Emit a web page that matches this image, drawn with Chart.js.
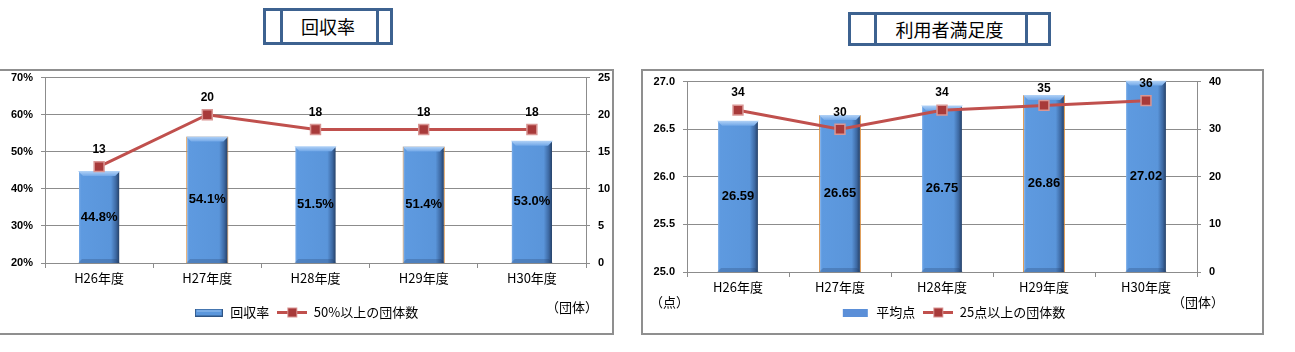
<!DOCTYPE html>
<html>
<head>
<meta charset="utf-8">
<script src="https://cdn.jsdelivr.net/npm/chart.js@4.4.1/dist/chart.umd.min.js"></script>
<style>
  body { margin: 0; background: #fff; width: 1295px; height: 352px; position: relative; overflow: hidden;
         font-family: "Noto Sans CJK JP", sans-serif; }
  .frame { position: absolute; box-sizing: border-box; border: 2px solid #8f8f8f; }
  .ttl { position: absolute; box-sizing: border-box; border: 3px solid #3d6290; text-align: center;
         font-size: 18px; color: #000; }
  .ttl .bar { position: absolute; top: 0; bottom: 0; width: 3px; background: #3d6290; }
  .note { position: absolute; font-size: 13px; line-height: 19px; color: #000; white-space: nowrap; }
  canvas { position: absolute; }
</style>
</head>
<body>

<div class="ttl" style="left:263px;top:8px;width:130px;height:37px;line-height:31px;">
  <div class="bar" style="left:14px"></div>回収率<div class="bar" style="left:110px"></div>
</div>
<div class="ttl" style="left:848px;top:12px;width:203px;height:34px;line-height:28px;">
  <div class="bar" style="left:23px"></div>利用者満足度<div class="bar" style="left:174px"></div>
</div>

<div class="frame" style="left:-2px;top:69px;width:616px;height:266px;"></div>
<div class="frame" style="left:641px;top:69px;width:623px;height:266px;"></div>

<canvas id="rate" width="612" height="271" style="left:0;top:63px"></canvas>
<canvas id="score" width="619" height="267" style="left:643px;top:67px"></canvas>

<div class="note" style="left:546px;top:297px;">（団体）</div>
<div class="note" style="left:650px;top:292px;">（点）</div>
<div class="note" style="left:1172px;top:292px;">（団体）</div>

<script>
// data
const years = ['H26年度', 'H27年度', 'H28年度', 'H29年度', 'H30年度'];
const recoveryRate = [44.8, 54.1, 51.5, 51.4, 53.0];   // 回収率 (%)
const groupsOver50 = [13, 20, 18, 18, 18];              // 50%以上の団体数
const avgScore = [26.59, 26.65, 26.75, 26.86, 27.02];  // 平均点
const groupsOver25 = [34, 30, 34, 35, 36];              // 25点以上の団体数

const GRID = '#8c8c8c';
const EDGE = ['rgba(0,0,0,0)', '#d98b3a', 'rgba(0,0,0,0)', '#d98b3a', 'rgba(0,0,0,0)'];

Chart.defaults.font.family = '"Noto Sans CJK JP", sans-serif';
Chart.defaults.color = '#000';

function barFill(pct) {
  return function (c) {
    const ch = c.chart, xs = ch.scales.x;
    if (c.type !== 'data' || !xs || !ch.chartArea) return '#5b97dc';
    const cx = xs.getPixelForValue(c.dataIndex);
    const half = xs.width / ch.data.labels.length * pct / 2;
    const g = ch.ctx.createLinearGradient(cx - half, 0, cx + half, 0);
    g.addColorStop(0, '#8ab6ec');
    g.addColorStop(0.07, '#5e9ae0');
    g.addColorStop(0.78, '#5a95da');
    g.addColorStop(0.9, '#3d69a3');
    g.addColorStop(1, '#1f3556');
    return g;
  };
}

// top / bottom bevel on the bars
const bevel = {
  id: 'bevel',
  afterDatasetDraw(chart, args) {
    if (args.meta.type !== 'bar') return;
    const ctx = chart.ctx, a = chart.chartArea;
    ctx.save();
    ctx.beginPath(); ctx.rect(a.left, a.top - 1, a.width, a.height + 1); ctx.clip();
    args.meta.data.forEach(el => {
      const l = el.x - el.width / 2, r = el.x + el.width / 2;
      const t = Math.max(el.y, a.top - 1), b = Math.min(el.base, a.bottom), d = 5;
      const g = ctx.createLinearGradient(0, t, 0, t + d);
      g.addColorStop(0, '#b3d3f7'); g.addColorStop(1, '#72a8e8');
      ctx.fillStyle = g;
      ctx.beginPath(); ctx.moveTo(l, t); ctx.lineTo(r, t); ctx.lineTo(r - d, t + d); ctx.lineTo(l + d, t + d);
      ctx.closePath(); ctx.fill();
      ctx.fillStyle = 'rgba(30,55,95,0.25)';
      ctx.beginPath(); ctx.moveTo(l, b); ctx.lineTo(r, b); ctx.lineTo(r - 4, b - 4); ctx.lineTo(l + 4, b - 4);
      ctx.closePath(); ctx.fill();
    });
    ctx.restore();
  }
};

// value labels on bars (centre) and line points (above)
const valueLabels = {
  id: 'valueLabels',
  afterDatasetsDraw(chart, args, opts) {
    const ctx = chart.ctx, a = chart.chartArea;
    ctx.save();
    ctx.textAlign = 'center'; ctx.textBaseline = 'middle'; ctx.fillStyle = '#000';
    chart.data.datasets.forEach((ds, i) => {
      const meta = chart.getDatasetMeta(i);
      meta.data.forEach((el, j) => {
        const v = ds.data[j];
        if (meta.type === 'bar') {
          ctx.font = 'bold 13px "Liberation Sans"';
          const mid = (Math.max(el.y, a.top) + Math.min(el.base, a.bottom)) / 2;
          ctx.fillText(opts.barFormat(v), el.x, mid);
        } else {
          ctx.font = 'bold 12px "Liberation Sans"';
          ctx.fillText(String(v), el.x, el.y - 17);
        }
      });
    });
    ctx.restore();
  }
};

function barIcon(outlined) {
  const c = document.createElement('canvas');
  c.width = 28; c.height = 8;
  const g = c.getContext('2d');
  if (outlined) {
    g.fillStyle = '#2f5585'; g.fillRect(0, 0, 28, 8);
    g.fillStyle = '#5b97dc'; g.fillRect(1, 1, 26, 6);
    g.fillStyle = '#9cc3f0'; g.fillRect(2, 2, 24, 1);
  } else {
    g.fillStyle = '#5b8fd8'; g.fillRect(2, 0, 25, 8);
  }
  return c;
}

function lineIcon() {
  const c = document.createElement('canvas');
  c.width = 30; c.height = 11;
  const g = c.getContext('2d');
  g.strokeStyle = '#c0504d'; g.lineWidth = 3;
  g.beginPath(); g.moveTo(0, 5.5); g.lineTo(30, 5.5); g.stroke();
  g.fillStyle = '#a83a3a'; g.fillRect(10.5, 1, 9, 9);
  g.strokeStyle = '#d99694'; g.lineWidth = 1; g.strokeRect(10.5, 1, 9, 9);
  return c;
}

function makeChart(id, o) {
  return new Chart(document.getElementById(id), {
    type: 'bar',
    data: {
      labels: years,
      datasets: [
        {
          type: 'bar', label: o.barLabel, data: o.barData, yAxisID: 'y', order: 1,
          backgroundColor: barFill(o.barPct), borderColor: EDGE, borderWidth: 1, borderSkipped: 'bottom',
          barPercentage: o.barPct, categoryPercentage: 1
        },
        {
          type: 'line', label: o.lineLabel, data: o.lineData, yAxisID: 'y1', order: 0,
          borderColor: '#c0504d', borderWidth: 3, tension: 0,
          pointStyle: 'rect', pointRadius: 7, pointBackgroundColor: '#a83a3a',
          pointBorderColor: '#d99694', pointBorderWidth: 1.5
        }
      ]
    },
    options: {
      responsive: false,
      animation: false,
      events: [],
      layout: { padding: { top: 0, bottom: 5, left: 0, right: 0 } },
      scales: {
        x: {
          grid: { display: true, drawOnChartArea: false, tickLength: 5, color: GRID, offset: true },
          border: { color: GRID },
          ticks: { font: { size: 13 }, padding: o.xPad, maxRotation: 0 },
          afterFit(s) { s.height = o.xH; }
        },
        y: {
          position: 'left', min: o.yMin, max: o.yMax,
          ticks: { stepSize: o.yStep, padding: 8, callback: o.yFmt,
                   font: { family: 'Liberation Sans', weight: 'bold', size: 11 } },
          grid: { color: GRID, tickLength: 4 },
          border: { color: GRID },
          afterFit(s) { s.width = o.yW; }
        },
        y1: {
          position: 'right', min: 0, max: o.y1Max,
          ticks: { stepSize: o.y1Step, padding: 8,
                   font: { family: 'Liberation Sans', weight: 'bold', size: 11 } },
          grid: { drawOnChartArea: false, color: GRID, tickLength: 4 },
          border: { color: GRID },
          afterFit(s) { s.width = o.y1W; }
        }
      },
      plugins: {
        tooltip: { enabled: false },
        legend: {
          position: 'bottom',
          labels: {
            usePointStyle: true, pointStyleWidth: 30, padding: 8, font: { size: 13 },
            generateLabels() {
              return [
                { text: o.barLabel, pointStyle: o.barIcon, datasetIndex: 0, hidden: false,
                  fillStyle: 'transparent', strokeStyle: 'transparent', lineWidth: 0, fontColor: '#000' },
                { text: o.lineLabel, pointStyle: lineIcon(), datasetIndex: 1, hidden: false,
                  fillStyle: 'transparent', strokeStyle: 'transparent', lineWidth: 0, fontColor: '#000' }
              ];
            }
          }
        },
        valueLabels: { barFormat: o.barFmt }
      }
    },
    plugins: [bevel, valueLabels]
  });
}

makeChart('rate', {
  barLabel: '回収率', lineLabel: '50%以上の団体数',
  barData: recoveryRate, lineData: groupsOver50,
  barPct: 0.39, xH: 35, xPad: 2, yW: 45, y1W: 26,
  yMin: 20, yMax: 70, yStep: 10, yFmt: v => v + '%',
  y1Max: 25, y1Step: 5,
  barFmt: v => v.toFixed(1) + '%',
  barIcon: barIcon(true)
});

makeChart('score', {
  barLabel: '平均点', lineLabel: '25点以上の団体数',
  barData: avgScore, lineData: groupsOver25,
  barPct: 0.41, xH: 26, xPad: 2, yW: 44, y1W: 65,
  yMin: 25, yMax: 27, yStep: 0.5, yFmt: v => v.toFixed(1),
  y1Max: 40, y1Step: 10,
  barFmt: v => v.toFixed(2),
  barIcon: barIcon(false)
});
</script>
</body>
</html>
